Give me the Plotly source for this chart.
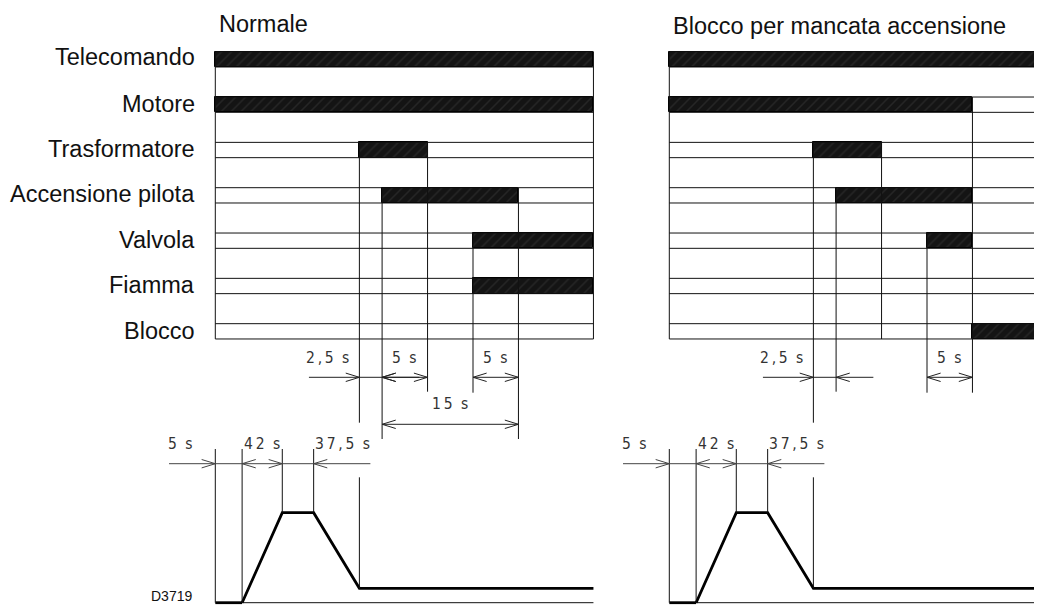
import plotly.graph_objects as go

# ---------------- data ----------------
SIGNALS = ["Telecomando", "Motore", "Trasformatore", "Accensione pilota",
           "Valvola", "Fiamma", "Blocco"]
PANEL_TITLES = ["Normale", "Blocco per mancata accensione"]
DRAWING_CODE = "D3719"

T_END = 41.6            # panel length (s, drawing time scale)

# bars (signal ON) - normal sequence
NORMAL_ROW = [0, 1, 2, 3, 4, 5]
NORMAL_START = [0.0, 0.0, 15.85, 18.35, 28.35, 28.35]
NORMAL_STOP = [41.6, 41.6, 23.35, 33.35, 41.6, 41.6]
# bars (signal ON) - lockout for failed ignition
LOCK_ROW = [0, 1, 2, 3, 4, 6]
LOCK_START = [0.0, 0.0, 15.85, 18.35, 28.35, 33.35]
LOCK_STOP = [41.6, 33.35, 23.35, 33.35, 33.35, 41.6]

# event marker lines: time and signal row where they start
NORMAL_MARK_T = [15.85, 18.35, 23.35, 28.35, 33.35]
NORMAL_MARK_ROW = [2, 3, 2, 4, 3]
LOCK_MARK_T = [15.85, 18.35, 23.35, 28.35, 33.35]
LOCK_MARK_ROW = [2, 3, 2, 4, 1]

# upper dimension callouts
NORMAL_DIM_LABEL = ["2,5 s", "5 s", "5 s", "15 s"]
NORMAL_DIM_T0 = [15.85, 18.35, 28.35, 18.35]
NORMAL_DIM_T1 = [18.35, 23.35, 33.35, 33.35]
LOCK_DIM_LABEL = ["2,5 s", "5 s"]
LOCK_DIM_T0 = [15.85, 28.35]
LOCK_DIM_T1 = [18.35, 33.35]

# air damper / servomotor profile (lower diagram)
PROFILE_T = [0.0, 2.95, 7.37, 10.82, 15.85, 41.6]
PROFILE_LEVEL = [0.0, 0.0, 1.0, 1.0, 0.16, 0.16]
PROFILE_DIM_LABEL = ["5 s", "42 s", "37,5 s"]

# ---------------- layout / style constants ----------------
PAGE_MARGIN = 8                     # default body margin of the html page
W, H = 1042 - PAGE_MARGIN, 605 - PAGE_MARGIN
PX_PER_S = 9.09
X0_PX = 215.3                      # left panel t=0 (screen px)
PANEL_OFFSET = [0.0, 454.0 / PX_PER_S]
ROW0_PX, ROW_PX = 59.35, 45.33
HALF = 15.3 / ROW_PX / 2           # half strip height (rows)
Y0_PX, LEVEL_PX = 602.7, 90.0      # profile axis
LABEL_Y_PX = [57.0, 103.5, 149.4, 194.4, 239.8, 285.0, 330.5]

XR = [-(X0_PX - PAGE_MARGIN) / PX_PER_S, (W - (X0_PX - PAGE_MARGIN)) / PX_PER_S]
YR = [(H - (ROW0_PX - PAGE_MARGIN)) / ROW_PX, -(ROW0_PX - PAGE_MARGIN) / ROW_PX]
Y2R = [((Y0_PX - PAGE_MARGIN) - H) / LEVEL_PX, (Y0_PX - PAGE_MARGIN) / LEVEL_PX]


def row_of(px):
    return (px - ROW0_PX) / ROW_PX


def lvl_of(px):
    return (Y0_PX - px) / LEVEL_PX


LINE = "#111111"
DIMC = "#333333"
ARROW_L = 1.5
ARROW_H_ROW = 4.2 / ROW_PX
ARROW_H_LVL = 4.2 / LEVEL_PX
LABEL_FONT = dict(family="Liberation Sans, Arial, sans-serif", size=23.5, color="#111")
DIM_FONT = dict(family="Liberation Sans Narrow, Arial Narrow, DejaVu Sans Condensed, sans-serif",
                size=15.5, color=DIMC)

fig = go.Figure()


def seg_trace(xs, ys, width=1, color=LINE, yaxis="y"):
    fig.add_trace(go.Scatter(x=xs, y=ys, mode="lines", yaxis=yaxis,
                             line=dict(color=color, width=width),
                             hoverinfo="skip", showlegend=False))


def chevron(xs, ys, tip, y, direction, hh):
    xs += [tip - direction * ARROW_L, tip, tip - direction * ARROW_L, None]
    ys += [y + hh, y, y - hh, None]


def spaced(s):
    return "\u2009".join(list(s)).replace(" \u2009", "\u2009\u2009")


panels = [
    (NORMAL_ROW, NORMAL_START, NORMAL_STOP, NORMAL_MARK_T, NORMAL_MARK_ROW,
     NORMAL_DIM_LABEL, NORMAL_DIM_T0, NORMAL_DIM_T1),
    (LOCK_ROW, LOCK_START, LOCK_STOP, LOCK_MARK_T, LOCK_MARK_ROW,
     LOCK_DIM_LABEL, LOCK_DIM_T0, LOCK_DIM_T1),
]

# marker line lower ends (screen px) per panel, in same order as marker lists
MARK_END_PX = [[422.7, 439.0, 391.7, 392.7, 439.0],
               [422.7, 391.7, 339.0, 392.7, 392.7]]

annotations = []

for p, (rows, st, sp, mt, mr, dl, d0, d1) in enumerate(panels):
    off = PANEL_OFFSET[p]
    # hatched bars
    fig.add_trace(go.Bar(
        orientation="h", y=rows, base=[s + off for s in st],
        x=[b - a for a, b in zip(st, sp)], width=2 * HALF,
        marker=dict(color="#141414",
                    line=dict(color="#000", width=1),
                    pattern=dict(shape="/", fgcolor="#383838", bgcolor="#141414",
                                 size=7, solidity=0.22)),
        hoverinfo="skip", showlegend=False))
    # strip outlines and panel frame
    xs, ys = [], []
    for r in range(len(SIGNALS)):
        for yy in (r - HALF, r + HALF):
            xs += [off, off + T_END, None]
            ys += [yy, yy, None]
    for xx in (off, off + T_END):
        xs += [xx, xx, None]
        ys += [-HALF, len(SIGNALS) - 1 + HALF, None]
    # event markers
    for t, r, endpx in zip(mt, mr, MARK_END_PX[p]):
        xs += [off + t, off + t, None]
        ys += [r - HALF, row_of(endpx), None]
    seg_trace(xs, ys)

    # dimension callouts
    xs, ys = [], []
    for lab, t0, t1 in zip(dl, d0, d1):
        dur = t1 - t0
        if lab == "2,5 s":
            y = row_of(377.3)
            xs += [off + t0 - 5.55, off + t1 + 4.1, None]
            ys += [y, y, None]
            chevron(xs, ys, off + t0, y, 1, ARROW_H_ROW)
            chevron(xs, ys, off + t1, y, -1, ARROW_H_ROW)
            lx, ly = off + t0 - 3.55, row_of(358.3)
        else:
            y = row_of(377.3) if dur < 10 else row_of(424.3)
            xs += [off + t0, off + t1, None]
            ys += [y, y, None]
            chevron(xs, ys, off + t0, y, -1, ARROW_H_ROW)
            chevron(xs, ys, off + t1, y, 1, ARROW_H_ROW)
            lx = off + (t0 + t1) / 2
            ly = row_of(358.3) if dur < 10 else row_of(404.0)
        annotations.append(dict(x=lx, y=ly, xref="x", yref="y", text=spaced(lab),
                                showarrow=False, font=DIM_FONT,
                                xanchor="center", yanchor="middle"))
    seg_trace(xs, ys, color="#222")

    # lower profile diagram
    pt = [t + off for t in PROFILE_T]
    seg_trace(pt[:2], PROFILE_LEVEL[:2], width=2.8, color="#000", yaxis="y2")
    seg_trace([pt[1], pt[-1]], [0, 0], width=1, yaxis="y2")
    seg_trace(pt[1:], PROFILE_LEVEL[1:], width=2.8, color="#000", yaxis="y2")
    xs, ys = [], []
    top = lvl_of(449.0)
    for t, lv in zip(pt[:4], PROFILE_LEVEL[:4]):
        xs += [t, t, None]
        ys += [top, lv, None]
    xs += [pt[4], pt[4], None]
    ys += [lvl_of(477.3), PROFILE_LEVEL[4], None]
    seg_trace(xs, ys, yaxis="y2")
    # profile dimensions
    xs, ys = [], []
    ya = lvl_of(463.7)
    xs += [pt[0] - 5.09, pt[3] + 6.24, None]
    ys += [ya, ya, None]
    chevron(xs, ys, pt[0], ya, 1, ARROW_H_LVL)
    chevron(xs, ys, pt[1], ya, -1, ARROW_H_LVL)
    chevron(xs, ys, pt[2], ya, 1, ARROW_H_LVL)
    chevron(xs, ys, pt[3], ya, -1, ARROW_H_LVL)
    seg_trace(xs, ys, color="#444", yaxis="y2")
    lab_x = [pt[0] - 3.88, (pt[1] + pt[2]) / 2, pt[3] + 3.2]
    for lab, lx in zip(PROFILE_DIM_LABEL, lab_x):
        annotations.append(dict(x=lx, y=lvl_of(444.0), xref="x", yref="y2",
                                text=spaced(lab), showarrow=False, font=DIM_FONT,
                                xanchor="center", yanchor="middle"))

    # panel title
    annotations.append(dict(x=off + 0.2, y=row_of(24.0 if p == 0 else 26.0),
                            xref="x", yref="y", text=PANEL_TITLES[p],
                            showarrow=False, font=LABEL_FONT,
                            xanchor="left", yanchor="middle"))

# signal names
for r, name in enumerate(SIGNALS):
    annotations.append(dict(x=(197.0 - X0_PX) / PX_PER_S, y=row_of(LABEL_Y_PX[r]),
                            xref="x", yref="y",
                            text=name, showarrow=False, font=LABEL_FONT,
                            xanchor="right", yanchor="middle"))

# drawing code, kept fully inside the figure
annotations.append(dict(x=(193.3 - X0_PX) / PX_PER_S, y=lvl_of(604.5), xref="x", yref="y2",
                        text=DRAWING_CODE, showarrow=False,
                        font=dict(family="Liberation Sans, Arial, sans-serif", size=14, color="#111"),
                        xanchor="right", yanchor="bottom", borderpad=0))

fig.update_layout(
    width=W, height=H, margin=dict(l=0, r=0, t=0, b=0),
    paper_bgcolor="white", plot_bgcolor="white",
    barmode="overlay", bargap=0, showlegend=False,
    xaxis=dict(range=XR, visible=False, fixedrange=True),
    yaxis=dict(range=YR, visible=False, fixedrange=True),
    yaxis2=dict(range=Y2R, visible=False, overlaying="y", fixedrange=True),
    annotations=annotations,
)

fig.write_html("out.html")
